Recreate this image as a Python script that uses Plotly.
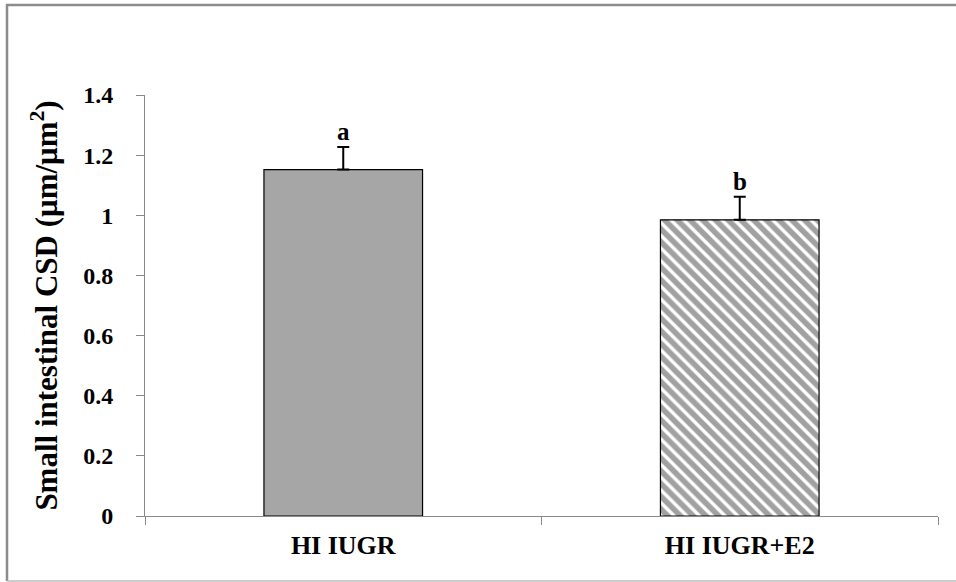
import plotly.graph_objects as go

# Data
groups = ["HI IUGR", "HI IUGR+E2"]
csd_mean = [1.152, 0.985]
csd_sem = [0.075, 0.077]
sig_letters = ["a", "b"]

W, H = 956, 582
L, R, T, B = 145, 18, 95, 66
plot_w = W - L - R
plot_h = H - T - B


def px_x(px):
    return (px - L) / plot_w


def px_y(py):
    return (H - B - py) / plot_h


font_family = "Liberation Serif, Times New Roman, serif"

fig = go.Figure()
fig.add_trace(go.Bar(
    x=groups,
    y=csd_mean,
    marker=dict(
        color=["#a6a6a6", "#ffffff"],
        line=dict(color="#000000", width=1.2),
        pattern=dict(
            shape=["", "\\"],
            fgcolor="#000000",
            bgcolor="#ffffff",
            size=9,
            solidity=0.62,
            fillmode="overlay",
        ),
    ),
    error_y=dict(
        type="data",
        symmetric=False,
        array=csd_sem,
        arrayminus=[0, 0],
        color="#000000",
        thickness=2,
        width=6,
    ),
    showlegend=False,
))

for g, m, e, s in zip(groups, csd_mean, csd_sem, sig_letters):
    fig.add_annotation(
        x=g, y=m + e, text=s, showarrow=False,
        yanchor="bottom", yshift=0,
        font=dict(family=font_family, size=25, color="#000000", weight="bold"),
    )

# outer frame lines
frame = dict(type="line", xref="paper", yref="paper", layer="above")
fig.add_shape(**frame, x0=px_x(7), x1=px_x(7), y0=px_y(4), y1=px_y(581),
              line=dict(color="#8c8c8c", width=2.5))
fig.add_shape(**frame, x0=px_x(6), x1=px_x(W + 5), y0=px_y(5), y1=px_y(5),
              line=dict(color="#8c8c8c", width=2.5))
fig.add_shape(**frame, x0=px_x(7), x1=px_x(W + 5), y0=px_y(581), y1=px_y(581),
              line=dict(color="#bdbdbd", width=1.5))

fig.update_layout(
    width=W, height=H,
    margin=dict(l=L, r=R, t=T, b=B, pad=0),
    paper_bgcolor="#ffffff",
    plot_bgcolor="#ffffff",
    bargap=0.6,
    font=dict(family=font_family, color="#000000"),
    xaxis=dict(
        type="category",
        showline=True, linecolor="#898989", linewidth=1,
        ticks="outside", tickson="boundaries", ticklen=8, tickcolor="#898989",
        tickfont=dict(family=font_family, size=26, color="#000000", weight="bold"),
        ticklabelstandoff=6,
        showgrid=False, zeroline=False,
    ),
    yaxis=dict(
        range=[0, 1.4],
        tickvals=[0, 0.2, 0.4, 0.6, 0.8, 1, 1.2, 1.4],
        ticktext=["0", "0.2", "0.4", "0.6", "0.8", "1", "1.2", "1.4"],
        showline=True, linecolor="#898989", linewidth=1,
        ticks="outside", ticklen=8, tickcolor="#898989",
        tickfont=dict(family=font_family, size=24, color="#000000", weight="bold"),
        ticklabelstandoff=18,
        showgrid=False, zeroline=False,
        title=dict(
            text="Small intestinal CSD (μm/μm<sup>2</sup>)",
            font=dict(family=font_family, size=31, color="#000000", weight="bold"),
            standoff=16,
        ),
    ),
)

fig.write_html("out.html")
